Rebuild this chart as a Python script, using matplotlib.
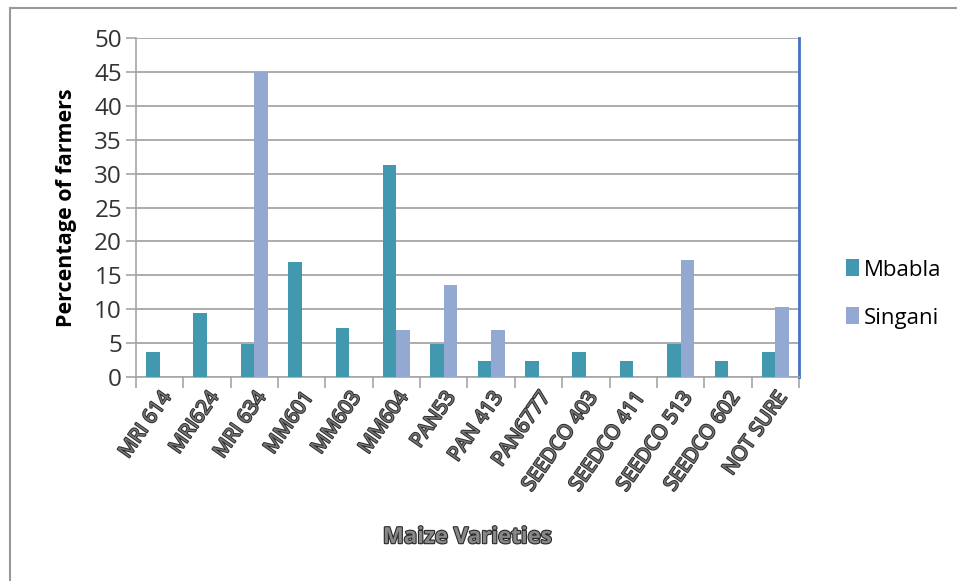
import numpy as np
import matplotlib.pyplot as plt
import matplotlib.patheffects as pe
from matplotlib.lines import Line2D

varieties = ['MRI 614', 'MRI624', 'MRI 634', 'MM601', 'MM603', 'MM604', 'PAN53',
             'PAN 413', 'PAN6777', 'SEEDCO 403', 'SEEDCO 411', 'SEEDCO 513',
             'SEEDCO 602', 'NOT SURE']
mbabla = [3.7, 9.5, 4.9, 16.9, 7.3, 31.2, 4.9, 2.4, 2.4, 3.7, 2.4, 4.9, 2.4, 3.7]
singani = [0, 0, 45, 0, 0, 6.9, 13.6, 6.9, 0, 0, 0, 17.2, 0, 10.3]

plt.rcParams['font.family'] = ['Open Sans', 'DejaVu Sans']

fig = plt.figure(figsize=(9.57, 5.81), dpi=100)
ax = fig.add_axes([0.142, 0.351, 0.693, 0.5836])

x = np.arange(len(varieties))
w = 0.285
ax.bar(x - w / 2, mbabla, w, color='#4198AF', label='Mbabla', zorder=3)
ax.bar(x + w / 2, singani, w, color='#94A9D1', label='Singani', zorder=3)

ax.set_xlim(-0.5, len(varieties) - 0.5)
ax.set_ylim(0, 50)
ax.set_yticks(range(0, 51, 5))
ax.yaxis.grid(True, color='#A6A6A6', linewidth=1.3, zorder=0)
ax.set_axisbelow(True)

ax.set_xticks(x)
ax.set_xticks(np.arange(-0.5, len(varieties), 1), minor=True)
ax.tick_params(axis='x', which='major', length=0, pad=8)
ax.tick_params(axis='x', which='minor', length=8, color='#A6A6A6', width=1.2)
ax.tick_params(axis='y', length=7, color='#A6A6A6', width=1.2, labelsize=17.5,
               labelcolor='#333333', pad=3)
ax.set_xticklabels(varieties, rotation=55, ha='right', va='top', rotation_mode='anchor',
                   fontsize=14.5, color='#777777')
for lab in ax.get_xticklabels():
    lab.set_path_effects([pe.Stroke(linewidth=1.4, foreground='#2a2a2a'), pe.Normal()])

for s in ['left', 'bottom']:
    ax.spines[s].set_color('#A6A6A6')
    ax.spines[s].set_linewidth(1.2)
ax.spines['top'].set_visible(False)
ax.spines['right'].set_color('#4472C4')
ax.spines['right'].set_linewidth(2)

ax.set_ylabel('Percentage of farmers', fontsize=15.5, fontweight='bold', labelpad=12)
xl = ax.set_xlabel('Maize Varieties', fontsize=16, fontweight='bold', color='#888888',
                   labelpad=23)
xl.set_path_effects([pe.Stroke(linewidth=1.6, foreground='#2a2a2a'), pe.Normal()])

ax.legend(loc='center left', bbox_to_anchor=(1.04, 0.245), frameon=False, fontsize=16,
          handlelength=0.6, handleheight=0.8, handletextpad=0.2, labelspacing=1.2)

fig.add_artist(Line2D([10 / 957, 1], [1 - 8 / 581, 1 - 8 / 581], color='#999999', lw=1.5))
fig.add_artist(Line2D([10 / 957, 10 / 957], [0, 1 - 8 / 581], color='#999999', lw=1.5))

fig.savefig('out.png', dpi=100)
